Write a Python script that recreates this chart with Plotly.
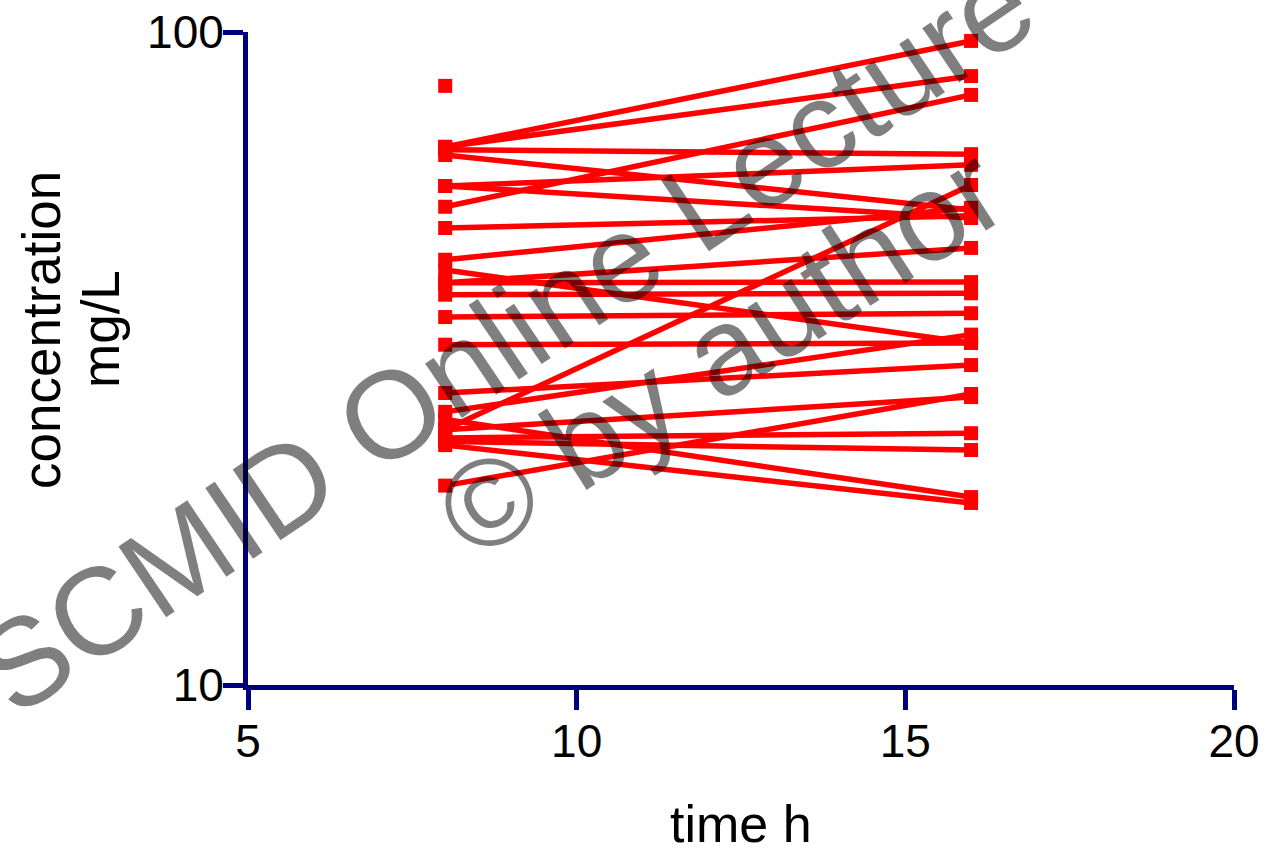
import plotly.graph_objects as go

# Paired concentrations (mg/L) at 8 h and 16 h
time_first = 8
time_second = 16
conc_8h = [66.7, 66.7, 54.0, 66.0, 58.1, 64.8, 58.1, 50.1, 44.8, 41.3, 43.2, 41.3,
           39.6, 36.6, 33.2, 26.2, 24.6, 28.0, 24.6, 20.2, 23.9, 23.6, 25.5, 23.3]
conc_16h = [96.9, 85.6, 80.1, 65.0, 62.6, 53.4, 51.9, 52.3, 53.8, 46.7, 33.4, 41.4,
            39.8, 37.1, 33.4, 34.4, 58.3, 30.9, 27.6, 27.9, 24.3, 22.9, 19.4, 19.0]
# Single unpaired observation at 8 h
unpaired_8h = [82.7]

x_ticks = [5, 10, 15, 20]
y_ticks = [10, 100]

RED = "#ff0000"
NAVY = "#00007f"
FONT = "Liberation Sans, Arial, sans-serif"
WM = "rgba(0,0,0,0.5)"

fig = go.Figure()
for a, b in zip(conc_8h, conc_16h):
    fig.add_trace(go.Scatter(
        x=[time_first, time_second], y=[a, b], mode="lines+markers",
        line=dict(color=RED, width=5.5),
        marker=dict(symbol="square", size=14, color=RED),
        showlegend=False, hoverinfo="skip"))
fig.add_trace(go.Scatter(
    x=[time_first] * len(unpaired_8h), y=unpaired_8h, mode="markers",
    marker=dict(symbol="square", size=14, color=RED),
    showlegend=False))

axis_common = dict(
    showline=True, linecolor=NAVY, linewidth=5,
    ticks="outside", ticklen=20, tickwidth=5, tickcolor=NAVY,
    showgrid=False, zeroline=False, automargin=False,
    tickfont=dict(family=FONT, size=46, color="black"),
)
fig.update_xaxes(range=[5, 20], tickvals=x_ticks, ticktext=[str(v) for v in x_ticks],
                 ticklabelstandoff=-8, **axis_common)
fig.update_yaxes(type="log", range=[1, 2], tickvals=y_ticks,
                 ticktext=[str(v) for v in y_ticks], ticklabelstandoff=-10, **axis_common)

W = 986.0
H = 653.0


def px(xp):
    return (xp - 248) / W


def py(yp):
    return (685 - yp) / H


fig.update_layout(
    width=1268, height=850,
    margin=dict(l=248, r=34, t=32, b=165),
    plot_bgcolor="white", paper_bgcolor="white",
    font=dict(family=FONT, color="black"),
    annotations=[
        dict(text="time h", xref="paper", yref="paper", x=px(741), y=py(824),
             xanchor="center", yanchor="middle",
             showarrow=False, font=dict(size=52, family=FONT, color="black")),
        dict(text="concentration", xref="paper", yref="paper",
             x=px(42), y=py(330), xanchor="center", yanchor="middle", textangle=-90,
             showarrow=False, font=dict(size=53, family=FONT, color="black")),
        dict(text="mg/L", xref="paper", yref="paper",
             x=px(100), y=py(329), xanchor="center", yanchor="middle", textangle=-90,
             showarrow=False, font=dict(size=53, family=FONT, color="black")),
        dict(text="SCMID Online Lecture", xref="paper", yref="paper",
             x=px(505), y=py(337), xanchor="center", yanchor="middle", textangle=-34,
             showarrow=False, font=dict(size=124, family=FONT, color=WM)),
        dict(text="© by author", xref="paper", yref="paper",
             x=px(720), y=py(352), xanchor="center", yanchor="middle", textangle=-33,
             showarrow=False, font=dict(size=124, family=FONT, color=WM)),
    ],
)

fig.write_html("out.html")
